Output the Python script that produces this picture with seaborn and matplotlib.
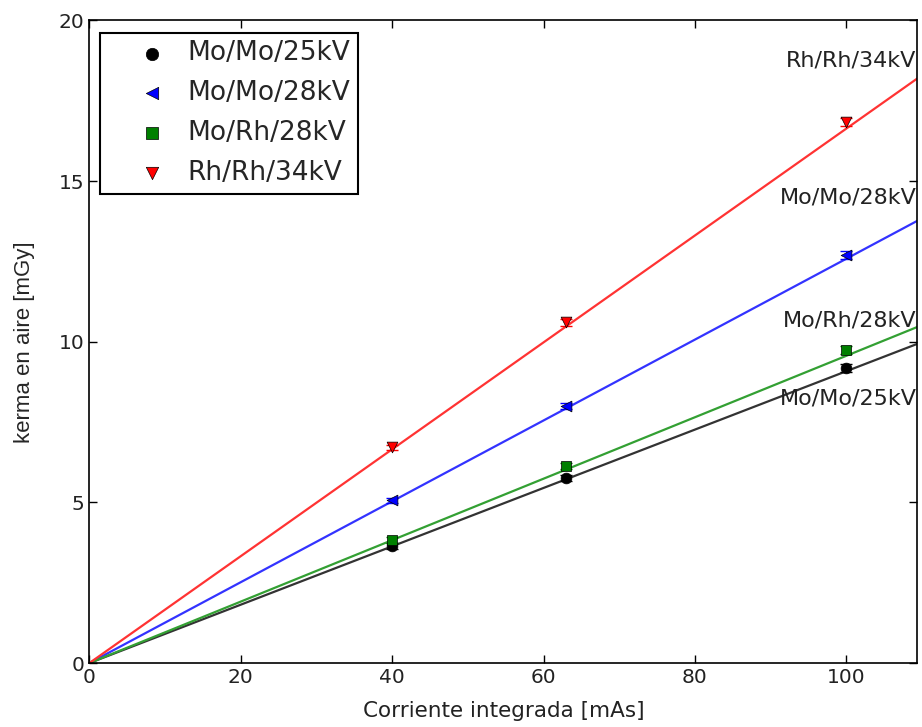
import numpy as np
import pandas as pd
import matplotlib
matplotlib.use("Agg")
import matplotlib.pyplot as plt
from matplotlib.collections import PathCollection
from matplotlib.legend_handler import HandlerPathCollection
import seaborn as sns

# data
series = ["Mo/Mo/25kV", "Mo/Mo/28kV", "Mo/Rh/28kV", "Rh/Rh/34kV"]
current_mAs = [40, 63, 100]
kerma_mo_mo_25 = [3.64, 5.75, 9.18]
kerma_mo_mo_28 = [5.07, 7.99, 12.69]
kerma_mo_rh_28 = [3.83, 6.13, 9.74]
kerma_rh_rh_34 = [6.72, 10.60, 16.83]
kerma_err = [0.08, 0.10, 0.12]
fit_slopes = [0.0908, 0.1258, 0.0956, 0.1663]
fit_x = [0, 110]

colors = ["black", "blue", "green", "red"]
line_colors = ["#333333", "#3333ff", "#33a033", "#ff3333"]
markers = ["o", "<", "s", "v"]

sns.set_style("ticks", {"xtick.direction": "in", "ytick.direction": "in"})
plt.rcParams["font.family"] = ["DejaVu Sans"]

fig, ax = plt.subplots(figsize=(9.22, 7.27), dpi=100)
fig.subplots_adjust(left=0.097, right=0.995, top=0.972, bottom=0.088)

values = [kerma_mo_mo_25, kerma_mo_mo_28, kerma_mo_rh_28, kerma_rh_rh_34]

for name, vals, slope, c, lc, m in zip(series, values, fit_slopes, colors, line_colors, markers):
    fit_df = pd.DataFrame({"x": fit_x, "y": [slope * v for v in fit_x]})
    sns.lineplot(data=fit_df, x="x", y="y", color=lc, lw=1.6, ax=ax, legend=False)
    ax.errorbar(current_mAs, vals, yerr=kerma_err, fmt="none", ecolor=c, elinewidth=0.8, capsize=4)
    pts = pd.DataFrame({"x": current_mAs, "y": vals})
    sns.scatterplot(data=pts, x="x", y="y", color=c, marker=m, s=60,
                    edgecolor="black", linewidth=0.5, ax=ax, label=name, zorder=5)

label_pos = {"Rh/Rh/34kV": 18.75, "Mo/Mo/28kV": 14.5, "Mo/Rh/28kV": 10.67, "Mo/Mo/25kV": 8.24}
for name in series:
    ax.text(109.3, label_pos[name], name, ha="right", va="center", fontsize=16, color="#222222")

ax.set_xlim(0, 109.4)
ax.set_ylim(0, 20)
ax.set_xticks([0, 20, 40, 60, 80, 100])
ax.set_yticks([0, 5, 10, 15, 20])
ax.tick_params(axis="both", which="both", direction="in", top=True, right=True,
               labelsize=14.5, length=6, width=1, colors="black", labelcolor="#222222")
for sp in ax.spines.values():
    sp.set_visible(True)
    sp.set_color("black")
    sp.set_linewidth(1.2)

ax.set_xlabel("Corriente integrada [mAs]", fontsize=15.5, color="#222222", labelpad=10)
ax.set_ylabel("kerma en aire [mGy]", fontsize=16, family=["Liberation Sans", "DejaVu Sans"], labelpad=17)

leg = ax.legend(loc="upper left", fontsize=19, frameon=True, fancybox=False,
                edgecolor="black", borderpad=0.3, handletextpad=0.2, handlelength=2.8,
                labelspacing=0.52, bbox_to_anchor=(0.0133, 0.981), borderaxespad=0.0,
                markerscale=1.15,
                handler_map={PathCollection: HandlerPathCollection(xpad=0.5)})
leg.get_frame().set_linewidth(1.5)
leg.get_frame().set_alpha(1)

fig.savefig("out.png", dpi=100)
